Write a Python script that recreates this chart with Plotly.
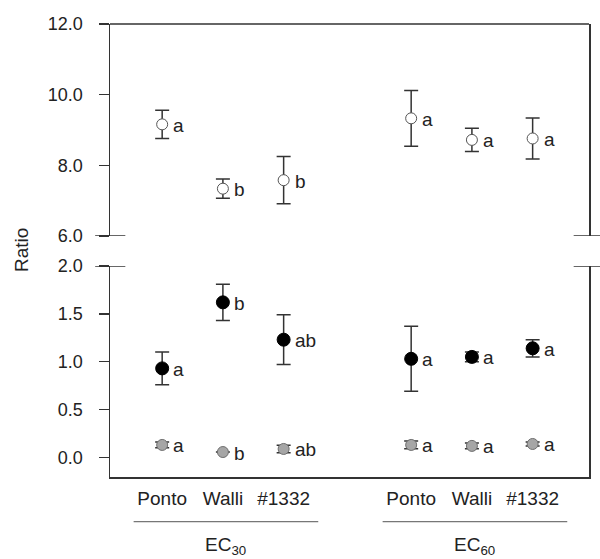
import plotly.graph_objects as go

# ---- data ----
cultivars = ["Ponto", "Walli", "#1332", "Ponto", "Walli", "#1332"]
x_pos = [1, 2, 3, 5.1, 6.1, 7.1]
groups = ["EC<sub>30</sub>", "EC<sub>60</sub>"]

white_mean = [9.16, 7.34, 7.58, 9.33, 8.72, 8.76]
white_err = [0.40, 0.27, 0.67, 0.79, 0.33, 0.58]
white_letters = ["a", "b", "b", "a", "a", "a"]

black_mean = [0.93, 1.62, 1.23, 1.03, 1.05, 1.14]
black_err = [0.17, 0.19, 0.26, 0.34, 0.05, 0.09]
black_letters = ["a", "b", "ab", "a", "a", "a"]

gray_mean = [0.13, 0.056, 0.088, 0.13, 0.12, 0.14]
gray_err = [0.03, 0.0, 0.04, 0.04, 0.03, 0.02]
gray_letters = ["a", "b", "ab", "a", "a", "a"]

FONT = "Arial, Liberation Sans, sans-serif"
AX = "#333333"
TXT = "#222222"

fig = go.Figure()

def add_series(mean, err, yaxis, fill, line, size):
    fig.add_trace(go.Scatter(
        x=x_pos, y=mean, yaxis=yaxis, mode="markers",
        marker=dict(size=size, color=fill, line=dict(color=line, width=1)),
        error_y=dict(type="data", array=err, visible=True, color=AX,
                     thickness=1.5, width=7),
        showlegend=False, cliponaxis=False, hoverinfo="skip"))

add_series(white_mean, white_err, "y", "white", "#555555", 11)
add_series(black_mean, black_err, "y2", "black", "black", 13)
add_series(gray_mean, gray_err, "y2", "#a6a6a6", "#6e6e6e", 11)

annotations = []
for xs, ys, letters, yref in [(x_pos, white_mean, white_letters, "y"),
                             (x_pos, black_mean, black_letters, "y2"),
                             (x_pos, gray_mean, gray_letters, "y2")]:
    for xv, yv, t in zip(xs, ys, letters):
        annotations.append(dict(x=xv, y=yv, xref="x", yref=yref, text=t,
                                showarrow=False, xanchor="left", yanchor="middle",
                                xshift=9, yshift=-1,
                                font=dict(family=FONT, size=19, color=TXT)))

# group labels
group_centers = [2.0, 6.1]
for c, g in zip(group_centers, groups):
    annotations.append(dict(x=c + 0.05, y=-0.152, xref="x", yref="paper", text=g,
                            showarrow=False, xanchor="center", yanchor="middle",
                            font=dict(family=FONT, size=19, color=TXT)))

annotations.append(dict(x=-0.186, y=0.501, xref="paper", yref="paper", text="Ratio",
                        textangle=-90, showarrow=False, xanchor="center",
                        yanchor="middle", font=dict(family=FONT, size=19, color=TXT)))

shapes = []
# group underline
for c in group_centers:
    shapes.append(dict(type="line", xref="x", yref="paper", x0=c - 1.47, x1=c + 1.57,
                       y0=-0.0987, y1=-0.0987, line=dict(color="#555555", width=1)))
# top frame line
shapes.append(dict(type="line", xref="paper", yref="y domain", x0=0, x1=1, y0=1, y1=1,
                   line=dict(color=AX, width=1.5)))
# axis break marks
for yref, yv in [("y", 6.0), ("y2", 2.0)]:
    for x0, x1 in [(-0.031, 0.032), (0.968, 1.05)]:
        shapes.append(dict(type="line", xref="paper", yref=yref, x0=x0, x1=x1,
                           y0=yv, y1=yv, line=dict(color=AX, width=1.5)))

axis_common = dict(showline=True, linecolor=AX, linewidth=1.5, showgrid=False,
                   zeroline=False, ticks="outside", ticklen=10, tickwidth=1.5,
                   tickcolor=AX, tickfont=dict(family=FONT, size=18, color=TXT),
                   tickformat=".1f", mirror=True, ticklabelstandoff=12,
                   automargin=False)

fig.update_layout(
    template="none",
    width=600, height=559, autosize=False,
    margin=dict(l=110, r=11, t=24, b=82, pad=0),
    paper_bgcolor="white", plot_bgcolor="white",
    hovermode=False,
    xaxis=dict(domain=[0, 1], anchor="y2", range=[0.141, 8.028],
               tickvals=x_pos, ticktext=cultivars, showline=True, linecolor=AX,
               linewidth=1.5, showgrid=False, zeroline=False, ticks="",
               tickfont=dict(family=FONT, size=19, color=TXT), ticklabelstandoff=4,
               automargin=False),
    yaxis=dict(domain=[0.532, 1], anchor="x", range=[6, 12],
               tickvals=[6, 8, 10, 12], **axis_common),
    yaxis2=dict(domain=[0, 0.4658], anchor="x", range=[-0.205, 2.0],
                tickvals=[0, 0.5, 1.0, 1.5, 2.0], **axis_common),
    annotations=annotations, shapes=shapes,
)

fig.write_html(
    "out.html",
    config={"displayModeBar": False, "staticPlot": True},
    post_script="document.body.style.margin='0';document.body.style.overflow='hidden';",
)
